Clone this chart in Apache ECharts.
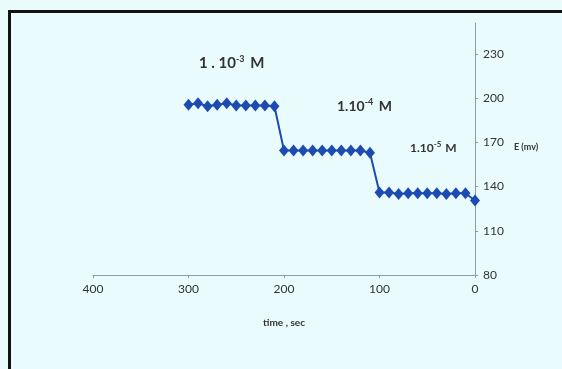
<!DOCTYPE html>
<html><head><meta charset="utf-8">
<script src="https://cdn.jsdelivr.net/npm/echarts@6/dist/echarts.min.js"></script>
<style>html,body{margin:0;padding:0;background:#e9fbfd;}#c{width:562px;height:369px;}</style>
</head><body><div id="c"></div>
<script>
const times = [300,290,280,270,260,250,240,230,220,210,
               200,190,180,170,160,150,140,130,120,110,
               100,90,80,70,60,50,40,30,20,10,0];
const potentials = [195.5,196.5,194.5,195.5,196.5,195,195,195,195,194.5,
                    164.5,164.5,164.5,164.5,164.5,164.5,164.5,164.5,164.5,163,
                    136,136,135,135.5,135.5,135.5,135.5,135,135.5,135.5,130.5];
const xTicks = [0,100,200,300,400];
const yTicks = [80,110,140,170,200,230];
const axisColor = '#8d9caa';
const textColor = '#333';
const chart = echarts.init(document.getElementById('c'));
chart.setOption({
  backgroundColor: '#e9fbfd',
  animation: false,
  grid: {left: 93, right: 87, top: 23, bottom: 94},
  xAxis: {
    type: 'value', inverse: true, min: 0, max: 400, interval: 100,
    splitLine: {show: false},
    axisLine: {lineStyle: {color: axisColor, width: 1}},
    axisTick: {length: 3, lineStyle: {color: axisColor}},
    axisLabel: {color: textColor, fontFamily: 'Lato', fontSize: 12, margin: 8},
    name: 'time , sec', nameLocation: 'middle', nameGap: 43,
    nameTextStyle: {color: textColor, fontFamily: 'Lato', fontSize: 10, fontWeight: 'bold'}
  },
  yAxis: {
    type: 'value', position: 'right', min: 80, max: 251,
    splitLine: {show: false},
    axisLine: {show: true, lineStyle: {color: axisColor, width: 1}},
    axisTick: {show: true, length: 3, customValues: yTicks, lineStyle: {color: axisColor}},
    axisLabel: {customValues: yTicks, color: textColor, fontFamily: 'Lato', fontSize: 12, margin: 8}
  },
  graphic: [
    {type: 'rect', shape: {x: 9.5, y: 11.5, width: 600, height: 400}, style: {fill: 'none', stroke: '#111', lineWidth: 3}, z: 100},
    {type: 'text', left: 199, top: 55, style: {
      text: '{b|1 . 10}{s|-3}{b| M}', rich: {
        b: {fontFamily: 'Lato', fontSize: 15, fontWeight: 'bold', fill: '#333'},
        s: {fontFamily: 'Lato', fontSize: 9, fontWeight: 'bold', fill: '#333', padding: [0,2,8,0]}
      }}},
    {type: 'text', left: 337, top: 98, style: {
      text: '{b|1.10}{s|-4}{b| M}', rich: {
        b: {fontFamily: 'Lato', fontSize: 14, fontWeight: 'bold', fill: '#333'},
        s: {fontFamily: 'Lato', fontSize: 9, fontWeight: 'bold', fill: '#333', padding: [0,2,8,0]}
      }}},
    {type: 'text', left: 410, top: 140, style: {
      text: '{b|1.10}{s|-5}{b| M}', rich: {
        b: {fontFamily: 'Lato', fontSize: 12, fontWeight: 'bold', fill: '#333'},
        s: {fontFamily: 'Lato', fontSize: 8, fontWeight: 'bold', fill: '#333', padding: [0,1,8,0]}
      }}},
    {type: 'text', left: 514, top: 143, style: {
      text: 'E (mv)', fontFamily: 'Lato', fontSize: 9, fontWeight: 'bold', fill: '#333'}}
  ],
  series: [{
    type: 'line',
    data: times.map((t, i) => [t, potentials[i]]),
    symbol: 'diamond', symbolSize: [10, 12],
    itemStyle: {color: '#1d4cb0'},
    lineStyle: {color: '#1d4cb0', width: 2}
  }]
});
</script></body></html>
